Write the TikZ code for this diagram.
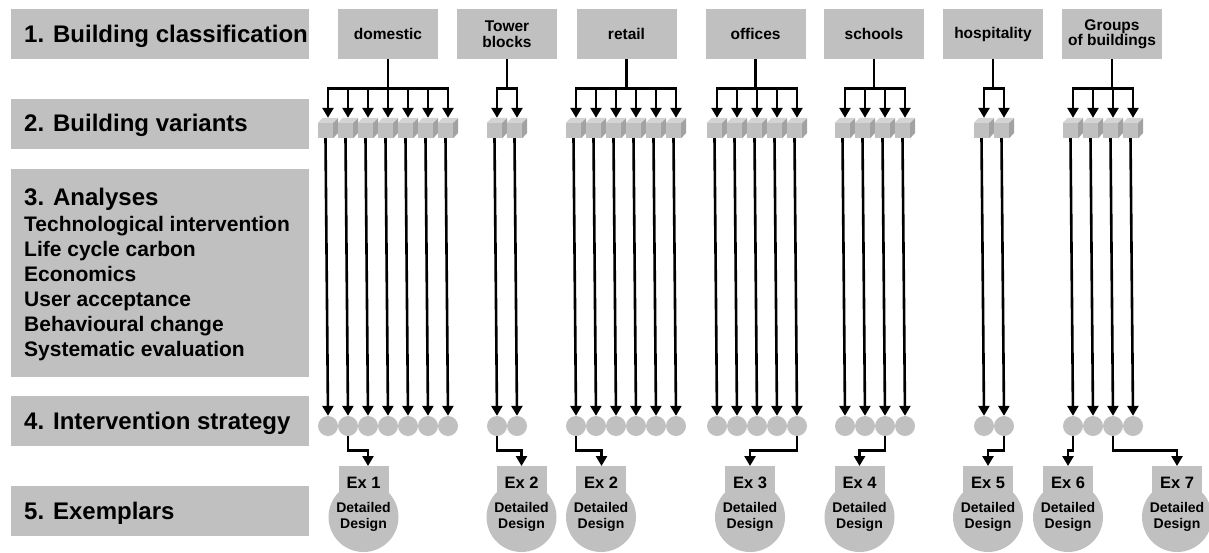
\documentclass[tikz,border=0pt]{standalone}
\usepackage{fontspec}
\setmainfont{Liberation Sans}
\usetikzlibrary{arrows.meta,calc}
\definecolor{boxgray}{HTML}{C0C0C0}
\definecolor{cubetopc}{HTML}{D4D4D4}
\definecolor{cubesidec}{HTML}{A2A2A2}
\tikzset{
  lblbox/.style={fill=boxgray, minimum width=298pt, inner sep=0pt, anchor=north west},
  lbltext/.style={anchor=base west, inner sep=0pt, font=\fontsize{24}{24}\selectfont\bfseries},
  subtext/.style={anchor=base west, inner sep=0pt, font=\fontsize{21}{21}\selectfont\bfseries},
  topbox/.style={fill=boxgray, minimum width=100pt, minimum height=50pt, inner sep=0pt, align=center,
    font=\fontsize{15.5}{15.5}\selectfont\bfseries},
  cubefront/.style={fill=boxgray, minimum width=15pt, minimum height=15pt, inner sep=0pt},
  dotnode/.style={circle, fill=boxgray, minimum size=20pt, inner sep=0pt},
  exbox/.style={fill=boxgray, minimum width=50pt, minimum height=34pt, inner sep=0pt, anchor=north,
    font=\fontsize{16.5}{16.5}\selectfont\bfseries},
  ddcirc/.style={circle, fill=boxgray, minimum size=70pt, inner sep=0pt, align=center,
    font=\fontsize{14}{16}\selectfont\bfseries},
  conn/.style={line width=2.6pt, -{Triangle[width=11pt,length=10pt]}},
}
\begin{document}
\begin{tikzpicture}[x=1pt,y=-1pt]
\useasboundingbox (0,0) rectangle (1209,552);
% left label boxes
\node[lblbox, minimum height=50pt] (L1) at (11,9) {};
\node[lbltext] (L1t) at (24,42.5) {1. Building classification};
\node[lblbox, minimum height=50pt] (L2) at (11,99) {};
\node[lbltext] (L2t) at (24,131.7) {2. Building variants};
\node[lblbox, minimum height=208pt] (L3) at (11,169) {};
\node[lbltext] (L3t) at (24,205.7) {3. Analyses};
\node[subtext] (L3a) at (24,231.7) {Technological intervention};
\node[subtext] (L3b) at (24,256.7) {Life cycle carbon};
\node[subtext] (L3c) at (24,281.7) {Economics};
\node[subtext] (L3d) at (24,306.7) {User acceptance};
\node[subtext] (L3e) at (24,331.7) {Behavioural change};
\node[subtext] (L3f) at (24,356.7) {Systematic evaluation};
\node[lblbox, minimum height=50pt] (L4) at (11,396) {};
\node[lbltext] (L4t) at (24,429.3) {4. Intervention strategy};
\node[lblbox, minimum height=50pt] (L5) at (11,486) {};
\node[lbltext] (L5t) at (24,519.3) {5. Exemplars};
% top boxes
\node[topbox] (top-dom) at (388,34) {domestic};
\node[topbox] (top-tow) at (507,34) {Tower\\blocks};
\node[topbox] (top-ret) at (626.5,34) {retail};
\node[topbox] (top-off) at (755.5,34) {offices};
\node[topbox] (top-sch) at (874,34) {schools};
\node[topbox] (top-hos) at (993,34) {hospitality};
\node[topbox] (top-grp) at (1112,34) {Groups\\of buildings};
% columns
\foreach \g/\fx/\n in {dom/328/7, tow/497/2, ret/576/6, off/717/5, sch/845/4, hos/984/2, grp/1073/4}{
  \foreach \k in {1,...,\n}{
    \pgfmathsetmacro\px{\fx+20*(\k-1)}
    \node[cubefront] (cube-\g-\k) at (\px-2.5,130.5) {};
    \fill[cubetopc] (cube-\g-\k.north west) -- ++(5,-5) -- ++(15,0) -- (cube-\g-\k.north east) -- cycle;
    \fill[cubesidec] (cube-\g-\k.north east) -- ++(5,-5) -- ++(0,15) -- (cube-\g-\k.south east) -- cycle;
    \node[dotnode] (dot-\g-\k) at (\px,426) {};
    \draw[conn] (top-\g.south) -- ++(0,29) -| ([xshift=2.5pt,yshift=5pt]cube-\g-\k.north);
    \draw[conn] (cube-\g-\k.south) -- (dot-\g-\k.north);
  }
}
% exemplars
\foreach \e/\cx/\lab/\src/\dx in {1/363.5/Ex 1/dom-2/4.5, 2/521.5/Ex 2/tow-1/0, 3/601/Ex 2/ret-1/0.5,
  4/750/Ex 3/off-5/0, 5/859.5/Ex 4/sch-3/0, 6/988/Ex 5/hos-2/0, 7/1068/Ex 6/grp-1/0, 8/1177/Ex 7/grp-3/0}{
  \node[ddcirc] (dd\e) at (\cx,517) {Detailed\\Design};
  \node[exbox] (ex\e) at (\cx,466) {\lab};
  \draw[conn] (dot-\src.south) -- ++(0,14) -| ([xshift=\dx pt]ex\e.north);
}
\end{tikzpicture}
\end{document}
